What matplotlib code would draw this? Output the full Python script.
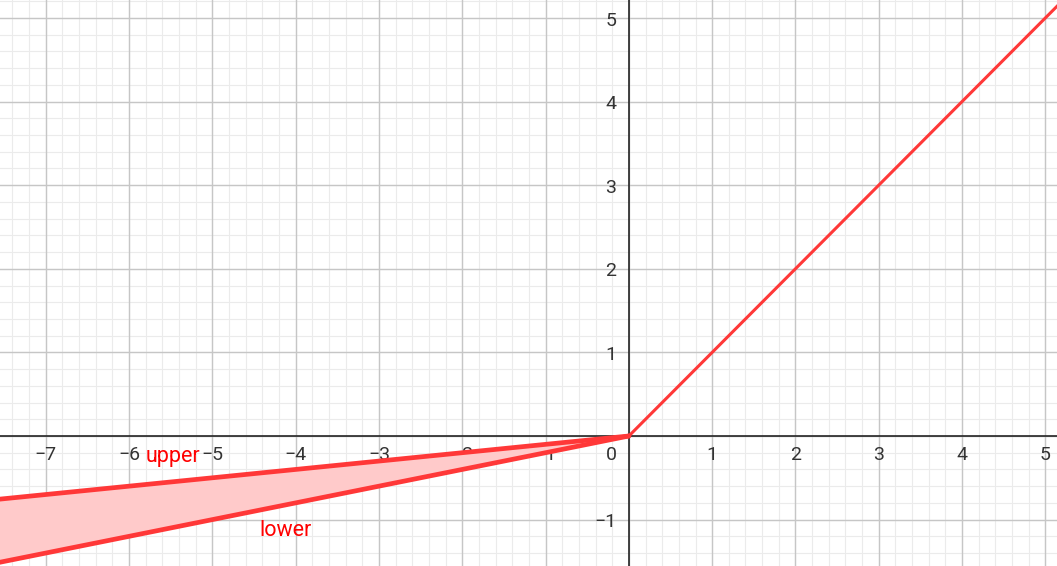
import numpy as np
import matplotlib
matplotlib.use("Agg")
import matplotlib.pyplot as plt

plt.rcParams['font.family'] = ['Roboto', 'DejaVu Sans']

# data
x_limits = [-7.55, 5.14]
y_limits = [-1.555, 5.215]
slope_upper = 0.1
slope_lower = 0.2
x_ticks = [-7, -6, -5, -4, -3, -2, -1, 1, 2, 3, 4, 5]
y_ticks = [-1, 1, 2, 3, 4, 5]
labels = ["upper", "lower"]
label_pos = [(-5.47, -0.25), (-4.12, -1.13)]

RED = '#ff3838'
FILL = '#ffcaca'
TXT = '#333333'

fig = plt.figure(figsize=(10.57, 5.66), dpi=100)
ax = fig.add_axes([0, 0, 1, 1])
ax.set_xlim(*x_limits)
ax.set_ylim(*y_limits)
for s in ax.spines.values():
    s.set_visible(False)
ax.set_xticks([])
ax.set_yticks([])

# grid
minor_x = np.arange(np.floor(x_limits[0]), np.ceil(x_limits[1]) + 0.01, 0.2)
minor_y = np.arange(np.floor(y_limits[0]), np.ceil(y_limits[1]) + 0.01, 0.2)
for v in minor_x:
    ax.axvline(v, color='#ebebeb', lw=0.8, zorder=0)
for v in minor_y:
    ax.axhline(v, color='#ebebeb', lw=0.8, zorder=0)
for v in range(int(np.floor(x_limits[0])), int(np.ceil(x_limits[1])) + 1):
    ax.axvline(v, color='#c6c6c6', lw=1.0, zorder=0.5)
for v in range(int(np.floor(y_limits[0])), int(np.ceil(y_limits[1])) + 1):
    ax.axhline(v, color='#c6c6c6', lw=1.0, zorder=0.5)

ax.axhline(0, color='#252525', lw=1.2, zorder=1)
ax.axvline(0, color='#252525', lw=1.2, zorder=1)

# tick labels
def fmt(t):
    return f"{t}".replace('-', '\u2212')

for t in x_ticks:
    ax.text(t, -0.287, fmt(t), ha='center', va='baseline',
            fontsize=14, color=TXT, zorder=2)
ax.text(-0.15, -0.287, "0", ha='right', va='baseline', fontsize=14, color=TXT, zorder=2)
for t in y_ticks:
    ax.text(-0.15, t - 0.092, fmt(t), ha='right', va='baseline',
            fontsize=14, color=TXT, zorder=2)

# RReLU
x_neg = np.array([x_limits[0] - 0.1, 0.0])
x_pos = np.array([0.0, x_limits[1] + 0.1])
y_up = slope_upper * x_neg
y_lo = slope_lower * x_neg
ax.fill_between(x_neg, y_lo, y_up, color=FILL, lw=0, zorder=3)
ax.plot(x_neg, y_up, color=RED, lw=3.4, solid_capstyle='round', zorder=4)
ax.plot(x_neg, y_lo, color=RED, lw=3.4, solid_capstyle='round', zorder=4)
ax.plot(x_pos, x_pos, color=RED, lw=2.2, solid_capstyle='round', zorder=4)

for lab, (lx, ly) in zip(labels, label_pos):
    ax.text(lx, ly, lab, color='#ff0000', fontsize=15.5, ha='center', va='center', zorder=5)

fig.savefig('out.png', dpi=100)
